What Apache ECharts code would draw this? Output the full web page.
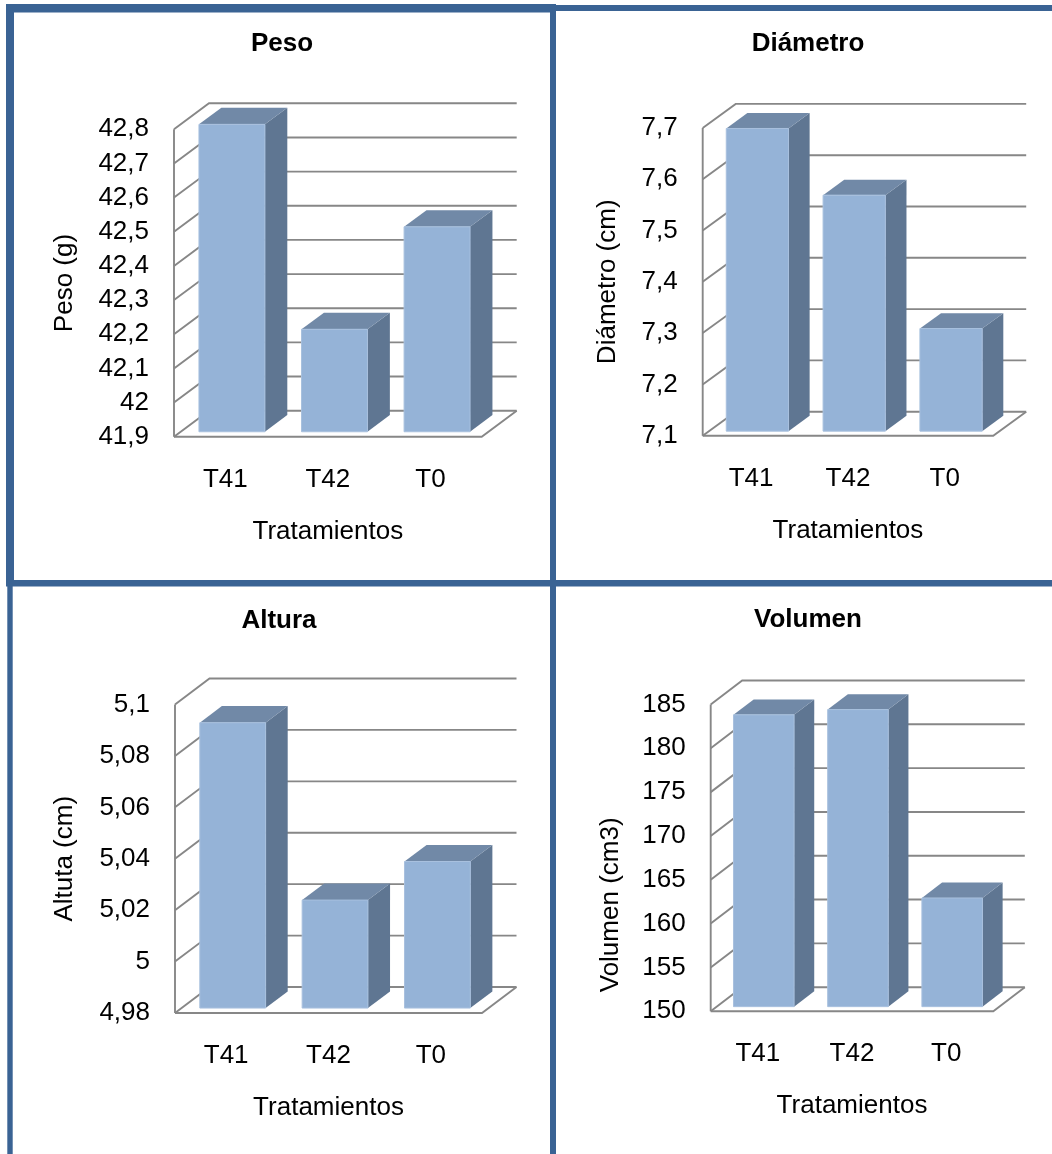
<!DOCTYPE html>
<html>
<head>
<meta charset="utf-8">
<script src="https://cdn.jsdelivr.net/npm/echarts@6/dist/echarts.min.js"></script>
<style>
  html, body { margin: 0; padding: 0; background: #ffffff; }
  #chart { width: 1052px; height: 1154px; }
</style>
</head>
<body>
<div id="chart"></div>
<script>
// Treatments shown on every panel
const categories = ['T41', 'T42', 'T0'];

// Mean values per treatment
const pesoValues = [42.8, 42.2, 42.5];
const diametroValues = [7.69, 7.56, 7.30];
const alturaValues = [5.091, 5.022, 5.037];
const volumenValues = [183.3, 183.9, 162.4];

// Value-axis ticks of each panel
const pesoTicks = [41.9, 42.0, 42.1, 42.2, 42.3, 42.4, 42.5, 42.6, 42.7, 42.8];
const diametroTicks = [7.1, 7.2, 7.3, 7.4, 7.5, 7.6, 7.7];
const alturaTicks = [4.98, 5.00, 5.02, 5.04, 5.06, 5.08, 5.10];
const volumenTicks = [150, 155, 160, 165, 170, 175, 180, 185];

// Panel layout: front plane of each 3-D box and its depth offset
const panels = [
  { title: 'Peso', yName: 'Peso (g)', values: pesoValues, ticks: pesoTicks,
    grid: { left: 174, top: 129.3, width: 307.7, height: 307.4 }, depth: [35, -26],
    titleAt: [282, 44], nameGap: 96, namePad: 0 },
  { title: 'Diámetro', yName: 'Diámetro (cm)', values: diametroValues, ticks: diametroTicks,
    grid: { left: 702.7, top: 127.9, width: 290.5, height: 307.8 }, depth: [33, -24],
    titleAt: [808, 44], nameGap: 82, namePad: 0 },
  { title: 'Altura', yName: 'Altuta (cm)', values: alturaValues, ticks: alturaTicks,
    grid: { left: 175, top: 704.5, width: 307, height: 308.5 }, depth: [34.5, -26],
    titleAt: [279, 621], nameGap: 97.5, namePad: 0 },
  { title: 'Volumen', yName: 'Volumen (cm3)', values: volumenValues, ticks: volumenTicks,
    grid: { left: 710.7, top: 704.5, width: 282.6, height: 306.7 }, depth: [31.5, -24],
    titleAt: [808, 620], nameGap: 86.5, namePad: 94 }
];

const FONT = '"Liberation Sans", Arial, Helvetica, sans-serif';
const FONT_SIZE = 26;
const GRID_LINE = '#878787';
const BAR_FRONT = '#95b3d7';
const BAR_SIDE = '#5f7692';
const BAR_TOP = '#7189a7';
const FRAME_BLUE = '#3a6394';

function fmt(v) {
  return String(Math.round(v * 1000) / 1000).replace('.', ',');
}

// Walls and floor of the 3-D box: one polyline per tick on the side and back wall
function frameRenderer(depth) {
  return function (params, api) {
    const cs = params.coordSys;
    const dx = depth[0], dy = depth[1];
    const y = api.coord([0, api.value(1)])[1];
    const x0 = cs.x, x1 = cs.x + cs.width;
    const paths = [[[x0, y], [x0 + dx, y + dy], [x1 + dx, y + dy]]];
    if (params.dataIndex === 0) {
      paths.push([[x0, y], [x1, y], [x1 + dx, y + dy]]);
      paths.push([[x0, cs.y], [x0, cs.y + cs.height]]);
    }
    return {
      type: 'group',
      children: paths.map(function (p) {
        return { type: 'polyline', shape: { points: p },
          style: { stroke: GRID_LINE, lineWidth: 1.9, fill: null } };
      })
    };
  };
}

// 3-D column: front face, right side and top, placed inside the box depth
function barRenderer(depth, minValue) {
  return function (params, api) {
    const dx = depth[0], dy = depth[1];
    const idx = api.value(0), val = api.value(1);
    const band = api.size([1, 0])[0];
    const topPt = api.coord([idx, val]);
    const basePt = api.coord([idx, minValue]);
    const f0 = 0.19, f1 = 0.83;
    const w = band * 0.643;
    const xL = topPt[0] - w / 2 + dx * f0;
    const xR = xL + w;
    const yT = topPt[1] + dy * f0;
    const yB = basePt[1] + dy * f0;
    const bx = dx * (f1 - f0), by = dy * (f1 - f0);
    return {
      type: 'group',
      children: [
        { type: 'polygon', shape: { points: [[xR, yT], [xR + bx, yT + by], [xR + bx, yB + by], [xR, yB]] },
          style: { fill: BAR_SIDE } },
        { type: 'polygon', shape: { points: [[xL, yT], [xR, yT], [xR + bx, yT + by], [xL + bx, yT + by]] },
          style: { fill: BAR_TOP } },
        { type: 'rect', shape: { x: xL, y: yT, width: w, height: yB - yT },
          style: { fill: BAR_FRONT, stroke: '#a8c0de', lineWidth: 1 } }
      ]
    };
  };
}

const grids = [], xAxes = [], yAxes = [], series = [], graphics = [];

panels.forEach(function (p, i) {
  const lo = p.ticks[0], hi = p.ticks[p.ticks.length - 1];
  const step = p.ticks[1] - p.ticks[0];
  grids.push(Object.assign({ containLabel: false }, p.grid));
  xAxes.push({
    type: 'category', gridIndex: i, data: categories,
    axisLine: { show: false }, axisTick: { show: false }, splitLine: { show: false },
    axisLabel: { margin: 30, fontSize: FONT_SIZE, color: '#000', fontFamily: FONT },
    name: 'Tratamientos', nameLocation: 'middle', nameGap: 82,
    nameTextStyle: { fontSize: FONT_SIZE, color: '#000', fontFamily: FONT }
  });
  yAxes.push({
    type: 'value', gridIndex: i, min: lo, max: hi, interval: step,
    axisLine: { show: false }, axisTick: { show: false }, splitLine: { show: false },
    axisLabel: { margin: 25, fontSize: FONT_SIZE, color: '#000', fontFamily: FONT, formatter: fmt },
    name: p.yName, nameLocation: 'middle', nameRotate: 90, nameGap: p.nameGap,
    nameTextStyle: { fontSize: FONT_SIZE, color: '#000', fontFamily: FONT, padding: [0, p.namePad, 0, 0] }
  });
  series.push({
    type: 'custom', xAxisIndex: i, yAxisIndex: i, silent: true, z: 1,
    renderItem: frameRenderer(p.depth),
    data: p.ticks.map(function (t) { return [0, t]; })
  });
  series.push({
    type: 'custom', xAxisIndex: i, yAxisIndex: i, silent: true, z: 2,
    renderItem: barRenderer(p.depth, lo),
    data: p.values.map(function (v, k) { return [k, v]; })
  });
  graphics.push({
    type: 'text', x: p.titleAt[0], y: p.titleAt[1], silent: true,
    style: { text: p.title, fontSize: FONT_SIZE, fontWeight: 'bold', fontFamily: FONT,
      fill: '#000', textAlign: 'center', textVerticalAlign: 'middle' }
  });
});

// Panel frames
[
  [6, 4, 550, 8.5], [6, 4, 8, 582], [550, 4, 6, 1150], [556, 5, 496, 6],
  [6, 580, 1046, 6.5], [7.3, 586, 5.4, 568]
].forEach(function (r) {
  graphics.push({ type: 'rect', silent: true, z: 10,
    shape: { x: r[0], y: r[1], width: r[2], height: r[3] },
    style: { fill: FRAME_BLUE } });
});

const chart = echarts.init(document.getElementById('chart'), null, { renderer: 'canvas' });
chart.setOption({
  animation: false,
  backgroundColor: '#ffffff',
  grid: grids,
  xAxis: xAxes,
  yAxis: yAxes,
  series: series,
  graphic: graphics
});
</script>
</body>
</html>
